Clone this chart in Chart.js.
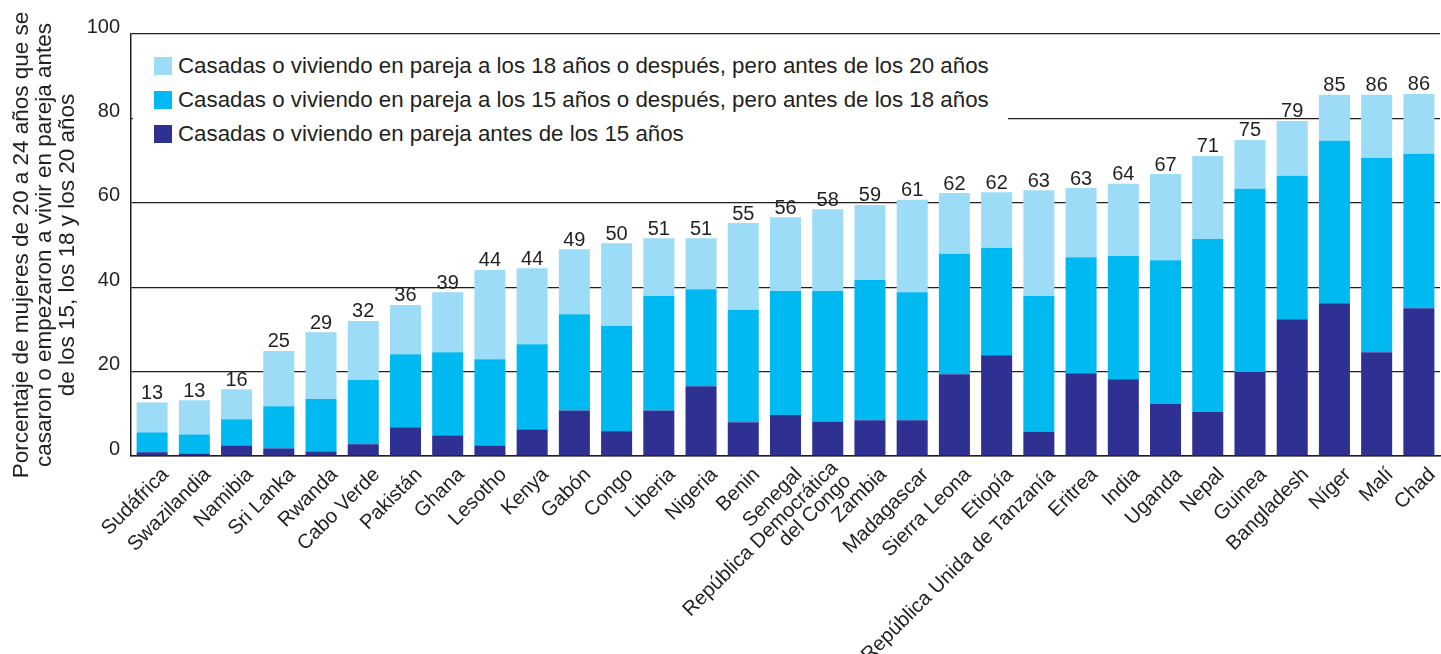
<!DOCTYPE html>
<html><head><meta charset="utf-8">
<script src="https://cdn.jsdelivr.net/npm/chart.js@4.4.1/dist/chart.umd.min.js"></script>
<style>
html,body{margin:0;padding:0;background:#fff;}
#wrap{position:relative;width:1441px;height:654px;overflow:hidden;}
#legend{position:absolute;left:133px;top:40px;width:875px;height:115px;background:#fff;font-family:"Liberation Sans",Arial,sans-serif;font-size:22.3px;color:#231f20;}
.item{position:absolute;left:21px;height:18px;display:flex;align-items:center;white-space:nowrap;}
.sw{width:18px;height:18px;margin-right:6px;flex:none;}
</style></head><body>
<div id="wrap"><canvas id="c" width="1441" height="654"></canvas><div id="legend"></div></div>
<script>
const categories = ["Sudáfrica","Swazilandia","Namibia","Sri Lanka","Rwanda","Cabo Verde","Pakistán","Ghana","Lesotho","Kenya","Gabón","Congo","Liberia","Nigeria","Benin","Senegal",["República Democrática","del Congo"],"Zambia","Madagascar","Sierra Leona","Etiopía","República Unida de Tanzanía","Eritrea","India","Uganda","Nepal","Guinea","Bangladesh","Níger","Malí","Chad"];
const under15 =    [0.9,0.6,2.5,1.8,1.1,2.8,6.8,4.9,2.5,6.3,10.8,5.9,10.8,16.5,8.0,9.7,8.2,8.5,8.5,19.4,23.9,5.8,19.6,18.2,12.3,10.4,19.9,32.4,36.2,24.6,35.0];
const from15to18 = [4.7,4.5,6.2,10.0,12.4,15.2,17.3,19.7,20.4,20.2,22.8,24.9,27.1,23.0,26.6,29.4,30.9,33.2,30.3,28.5,25.4,32.1,27.5,29.2,34.1,41.0,43.4,34.0,38.5,46.0,36.6];
const from18to20 = [7.1,8.1,7.1,13.1,15.8,14.0,11.7,14.2,21.2,18.0,15.4,19.6,13.7,12.1,20.6,17.5,19.4,17.8,21.9,14.4,13.2,25.1,16.4,17.1,20.4,19.7,11.6,13.0,10.9,15.0,14.2];
const totals =     [13,13,16,25,29,32,36,39,44,44,49,50,51,51,55,56,58,59,61,62,62,63,63,64,67,71,75,79,85,86,86];
const yTicks = [0,20,40,60,80,100];
const seriesNames = [
  "Casadas o viviendo en pareja antes de los 15 años",
  "Casadas o viviendo en pareja a los 15 años o después, pero antes de los 18 años",
  "Casadas o viviendo en pareja a los 18 años o después, pero antes de los 20 años"
];
const yTitle = ["Porcentaje de mujeres de 20 a 24 años que se","casaron o empezaron a vivir en pareja antes","de los 15, los 18 y los 20 años"];

const FONT = '"Liberation Sans", Arial, sans-serif';
const INK = '#231f20';
const colors = ['#2e3192','#00b9f0','#9ddcf7'];

const totalLabels = {
  id: 'totalLabels',
  afterDatasetsDraw(chart) {
    const ctx = chart.ctx;
    const meta = chart.getDatasetMeta(chart.data.datasets.length - 1);
    ctx.save();
    ctx.font = '20px ' + FONT;
    ctx.fillStyle = INK;
    ctx.textAlign = 'center';
    ctx.textBaseline = 'alphabetic';
    meta.data.forEach((el, i) => {
      ctx.fillText(String(totals[i]), el.x, el.y - 3.5);
    });
    ctx.restore();
  }
};

// Category labels, rotated 45°, multi-line labels centred on the tick line
const xLabels = {
  id: 'xLabels',
  afterDraw(chart) {
    const s = chart.scales.x, ctx = chart.ctx;
    ctx.save();
    ctx.font = '20.3px ' + FONT;
    ctx.fillStyle = INK;
    ctx.textAlign = 'right';
    ctx.textBaseline = 'middle';
    chart.data.labels.forEach((lab, i) => {
      const lines = Array.isArray(lab) ? lab : [lab];
      const x = s.getPixelForValue(i);
      ctx.save();
      ctx.translate(x + 13.5, s.top + 15.5);
      ctx.rotate(-Math.PI / 4);
      lines.forEach((t, k) => ctx.fillText(t, 0, (k - (lines.length - 1) / 2) * 18.4));
      ctx.restore();
    });
    ctx.restore();
  }
};

const chart = new Chart(document.getElementById('c'), {
  type: 'bar',
  data: {
    labels: categories,
    datasets: [
      {label: seriesNames[0], data: under15, backgroundColor: colors[0]},
      {label: seriesNames[1], data: from15to18, backgroundColor: colors[1]},
      {label: seriesNames[2], data: from18to20, backgroundColor: colors[2]}
    ]
  },
  options: {
    responsive: false,
    devicePixelRatio: 1,
    animation: false,
    datasets: {bar: {barPercentage: 0.735, categoryPercentage: 1, borderWidth: 0}},
    layout: {padding: {top: 34, right: 1, left: 0, bottom: 0}},
    plugins: {legend: {display: false}, tooltip: {enabled: false}},
    scales: {
      x: {
        stacked: true,
        grid: {display: false},
        border: {color: INK, width: 1.5},
        ticks: {display: false},
        afterFit(s) { s.height = 198; s.paddingLeft = 0; s.paddingRight = 0; }
      },
      y: {
        stacked: true, min: 0, max: 100,
        afterBuildTicks(s) { s.ticks = yTicks.map(v => ({value: v})); },
        grid: {color: INK, lineWidth: 1.3, drawTicks: false},
        border: {color: INK, width: 1.5},
        ticks: {padding: 11, labelOffset: -7, color: INK, font: {family: FONT, size: 20}},
        title: {display: true, text: yTitle, color: INK, font: {family: FONT, size: 22.5, lineHeight: '23px'}, padding: {top: 10, bottom: 0}},
        afterFit(s) { s.width = 131; }
      }
    }
  },
  plugins: [totalLabels, xLabels]
});

// HTML legend built from the chart's datasets (reversed order, as in the original)
const leg = document.getElementById('legend');
chart.data.datasets.slice().reverse().forEach((ds, k) => {
  const it = document.createElement('div');
  it.className = 'item';
  it.style.top = (17 + k * 34) + 'px';
  const sw = document.createElement('span');
  sw.className = 'sw';
  sw.style.background = ds.backgroundColor;
  const tx = document.createElement('span');
  tx.textContent = ds.label;
  it.appendChild(sw); it.appendChild(tx);
  leg.appendChild(it);
});
</script>
</body></html>
